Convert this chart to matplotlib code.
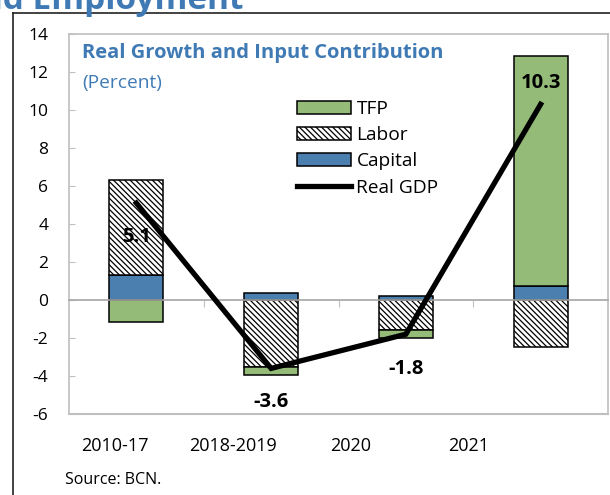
import numpy as np
import matplotlib
matplotlib.use("Agg")
from matplotlib import pyplot as plt
from matplotlib.lines import Line2D
from matplotlib.transforms import blended_transform_factory

# data (percent)
categories = ["2010-17", "2018-2019", "2020", "2021"]
tfp     = [-1.15, -0.40, -0.40, 12.10]
labor   = [ 5.00, -3.55, -1.60, -2.47]
capital = [ 1.30,  0.35,  0.20,  0.75]
gdp     = [ 5.1, -3.6, -1.8, 10.3]
gdp_labels = ["5.1", "-3.6", "-1.8", "10.3"]
yticks = [-6, -4, -2, 0, 2, 4, 6, 8, 10, 12, 14]

green = "#95bb78"
blue = "#4a7fb0"
title_blue = "#3f7ab5"
grey = "#bfbfbf"

plt.rcParams['font.family'] = ['Open Sans', 'DejaVu Sans']
plt.rcParams['hatch.linewidth'] = 0.9
plt.rcParams['axes.unicode_minus'] = False

fig = plt.figure(figsize=(6.1, 4.95), dpi=100)
ax = fig.add_axes([69/610, 1-414/495, 539/610, 380/495])

x = np.arange(len(categories))
w = 0.4

# stack positives upward and negatives downward, in the order capital, labor, tfp
pos_base = np.zeros(len(x))
neg_base = np.zeros(len(x))
series = [("Capital", capital, dict(color=blue)),
          ("Labor", labor, dict(color="white", hatch="\\" * 6)),
          ("TFP", tfp, dict(color=green))]
handles = {}
for name, vals, style in series:
    vals = np.array(vals)
    bottom = np.where(vals >= 0, pos_base, neg_base)
    b = ax.bar(x, vals, w, bottom=bottom, edgecolor="black", linewidth=1.1,
               zorder=2, label=name, **style)
    handles[name] = b
    pos_base = pos_base + np.clip(vals, 0, None)
    neg_base = neg_base + np.clip(vals, None, 0)

line, = ax.plot(x, gdp, color="black", lw=3.8, zorder=4, label="Real GDP",
                solid_joinstyle="miter")

# value labels (offsets in points)
offsets = [(0, -24.5), (0, -24), (0, -25), (0, 15.5)]
for xi, yi, lab, off in zip(x, gdp, gdp_labels, offsets):
    ax.annotate(lab, (xi, yi), xytext=off, textcoords="offset points",
                ha="center", va="center", fontsize=14.5, fontweight="bold", zorder=5)

ax.set_xlim(-0.5, len(x) - 0.5)
ax.set_ylim(-6, 14)
ax.set_yticks(yticks)
ax.tick_params(axis="y", direction="in", length=4, color=grey, pad=15, labelsize=12.5)

# zero line with tick marks between categories
ax.spines["bottom"].set_position(("data", 0))
ax.set_xticks(x[:-1] + 0.5)
ax.set_xticklabels([])
ax.tick_params(axis="x", direction="out", length=5, color=grey)
ax.axhline(-6, color=grey, lw=1.5, clip_on=False, zorder=1)
for s in ax.spines.values():
    s.set_color(grey)
    s.set_linewidth(1.2)
ax.spines["bottom"].set_color("#a6a6a6")

# category labels sit a bit left of the bars
trans = blended_transform_factory(ax.transData, fig.transFigure)
label_x = -0.159 + 0.876 * x
for lx, c in zip(label_x, categories):
    ax.text(lx, 1 - 446/495, c, transform=trans, ha="center", va="center", fontsize=13)

ax.text(82/610, 1 - 53/495, "Real Growth and Input Contribution", transform=fig.transFigure,
        color=title_blue, fontsize=14.5, fontweight="bold", va="center", ha="left")
ax.text(82/610, 1 - 83/495, "(Percent)", transform=fig.transFigure,
        color=title_blue, fontsize=13.8, va="center", ha="left")

leg = ax.legend([handles["TFP"], handles["Labor"], handles["Capital"], line],
                ["TFP", "Labor", "Capital", "Real GDP"],
                loc="upper left", bbox_to_anchor=(297/610, 1 - 100/495),
                bbox_transform=fig.transFigure, frameon=False, fontsize=13.8,
                handlelength=2.8, handleheight=0.65, handletextpad=0.3,
                labelspacing=0.43, borderpad=0, borderaxespad=0)

fig.text(65/610, 1 - 480/495, "Source: BCN.", fontsize=11.5, va="center")
fig.text(243/610, 1 - 9/495, "Growth and Employment", fontsize=24, fontweight="bold",
         color=title_blue, ha="right", va="baseline")

# outer frame
fig.add_artist(Line2D([13/610, 13/610], [0, 1 - 13/495], color="#222222", lw=1.2))
fig.add_artist(Line2D([13/610, 1], [1 - 13/495, 1 - 13/495], color="#222222", lw=1.2))

fig.savefig("out.png", dpi=100)
